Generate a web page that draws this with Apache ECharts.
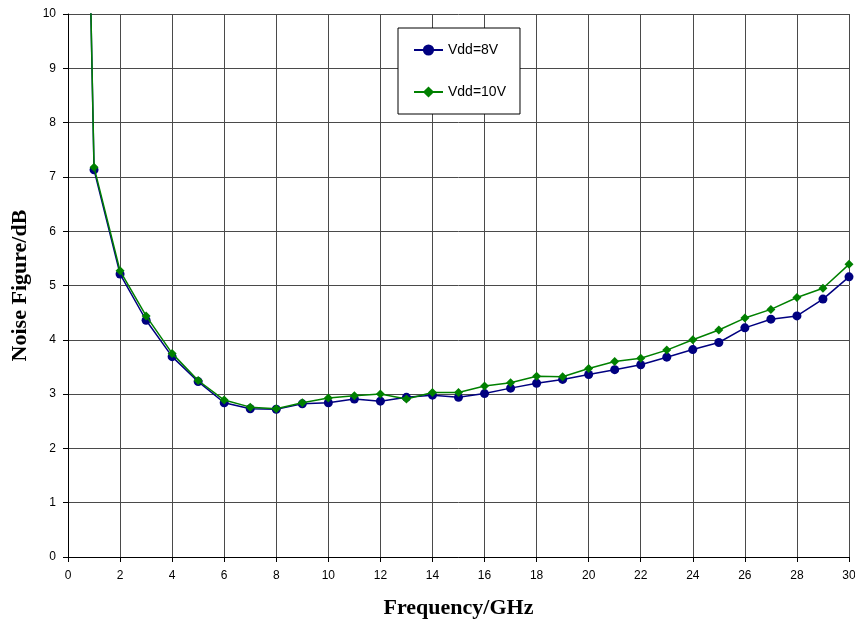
<!DOCTYPE html>
<html>
<head>
<meta charset="utf-8">
<script src="https://cdn.jsdelivr.net/npm/echarts@6/dist/echarts.min.js"></script>
<style>
  html, body { margin: 0; padding: 0; background: #fff; }
  #chart { width: 855px; height: 622px; }
</style>
</head>
<body>
<div id="chart"></div>
<script>
// Frequency points (GHz); the first point lies above the 10 dB ceiling
const frequency = [0.8, 1, 2, 3, 4, 5, 6, 7, 8, 9, 10, 11, 12, 13, 14, 15, 16, 17, 18, 19, 20,
                   21, 22, 23, 24, 25, 26, 27, 28, 29, 30];

// Noise figure (dB) at Vdd = 8 V
const nf8V = [11.9, 7.13, 5.21, 4.36, 3.69, 3.23, 2.84, 2.73, 2.72, 2.82, 2.84, 2.91, 2.87, 2.94, 2.98, 2.94,
              3.01, 3.11, 3.20, 3.27, 3.36, 3.45, 3.54, 3.68, 3.82, 3.95, 4.22, 4.38, 4.44, 4.75, 5.16];

// Noise figure (dB) at Vdd = 10 V
const nf10V = [11.95, 7.18, 5.27, 4.44, 3.75, 3.25, 2.89, 2.76, 2.73, 2.84, 2.93, 2.97, 3.00, 2.91, 3.03, 3.03,
               3.15, 3.21, 3.33, 3.32, 3.47, 3.60, 3.66, 3.81, 4.00, 4.18, 4.40, 4.56, 4.78, 4.95, 5.39];

const seriesNames = ['Vdd=8V', 'Vdd=10V'];
const xTitle = 'Frequency/GHz';
const yTitle = 'Noise Figure/dB';

const pairs = (ys) => frequency.map((f, i) => [f, ys[i]]);

const chart = echarts.init(document.getElementById('chart'), null, { renderer: 'canvas' });

const gridLine = { show: true, lineStyle: { color: '#4a4a4a', width: 1 } };
const labelFont = { fontFamily: 'Liberation Sans, Arial, sans-serif', fontSize: 12, color: '#000' };
const titleFont = { fontFamily: 'Liberation Serif, Times New Roman, serif', fontSize: 22, fontWeight: 'bold', color: '#000' };

chart.setOption({
  animation: false,
  backgroundColor: '#fff',
  grid: { left: 68, right: 6, top: 14, bottom: 65, containLabel: false, outerBoundsMode: 'none' },
  xAxis: {
    type: 'value',
    min: 0, max: 30, interval: 2,
    name: xTitle,
    nameLocation: 'middle',
    nameGap: 40,
    nameTextStyle: titleFont,
    axisLine: { show: true, onZero: false, lineStyle: { color: '#000', width: 1 } },
    axisTick: { show: true, length: 5, lineStyle: { color: '#000' } },
    axisLabel: Object.assign({ margin: 13 }, labelFont),
    splitLine: gridLine
  },
  yAxis: {
    type: 'value',
    min: 0, max: 10, interval: 1,
    name: yTitle,
    nameLocation: 'middle',
    nameGap: 35,
    nameRotate: 90,
    nameTextStyle: titleFont,
    axisLine: { show: true, lineStyle: { color: '#000', width: 1 } },
    axisTick: { show: true, length: 5, lineStyle: { color: '#000' } },
    axisLabel: Object.assign({ margin: 12 }, labelFont),
    splitLine: gridLine
  },
  legend: {
    orient: 'vertical',
    left: 398,
    top: 28,
    padding: [15, 14, 15, 15],
    itemGap: 28,
    itemWidth: 29,
    itemHeight: 14,
    backgroundColor: '#fff',
    borderColor: '#000',
    borderWidth: 1,
    borderRadius: 0,
    textStyle: { fontFamily: 'Liberation Sans, Arial, sans-serif', fontSize: 14, color: '#000' },
    data: seriesNames
  },
  series: [
    {
      name: seriesNames[0],
      type: 'line',
      data: pairs(nf8V),
      clip: true,
      symbol: 'circle',
      symbolSize: 9,
      color: '#000080',
      lineStyle: { color: '#000080', width: 1.5 },
      itemStyle: { color: '#000080' },
      z: 2
    },
    {
      name: seriesNames[1],
      type: 'line',
      data: pairs(nf10V),
      clip: true,
      symbol: 'diamond',
      symbolSize: 9,
      color: '#008000',
      lineStyle: { color: '#008000', width: 1.5 },
      itemStyle: { color: '#008000' },
      z: 3
    }
  ]
});
</script>
</body>
</html>
